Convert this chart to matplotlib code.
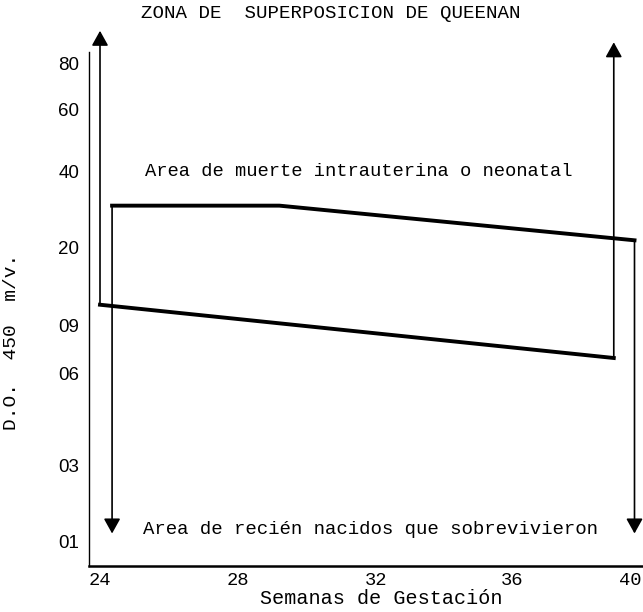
import numpy as np
import matplotlib
matplotlib.use('Agg')
import matplotlib.pyplot as plt

# etiquetas de los ejes
do_ticks = [0.01, 0.03, 0.06, 0.09, 0.20, 0.40, 0.60, 0.80]
do_labels = ['01', '03', '06', '09', '20', '40', '60', '80']
semanas = [24, 28, 32, 36, 40]

# limite superior (zona de muerte) y limite inferior (sobrevivientes)
sem_sup = [24.35, 29.2, 40.15]
do_sup = [0.31, 0.31, 0.22]
sem_inf = [24.0, 39.45]
do_inf = [0.12, 0.07]

# extremos de las flechas
tope_izq = 0.94
tope_der = 0.89
fondo = 0.012

# escala del papel, dibujada a mano (no es log ni lineal)
y_val = [0.0, 0.01, 0.03, 0.06, 0.09, 0.20, 0.40, 0.60, 0.80, 1.0]
y_alt = [0, 25, 100, 192, 240, 318, 395, 456, 503, 549]
x_sem = [20, 24, 28, 32, 36, 40, 44]
x_pos = [-38, 100, 238, 376, 512, 630, 750]

fy = lambda v: np.interp(v, y_val, y_alt)
iy = lambda h: np.interp(h, y_alt, y_val)
fx = lambda s: np.interp(s, x_sem, x_pos)
ix = lambda p: np.interp(p, x_pos, x_sem)

mono = 'Liberation Mono'

fig = plt.figure(figsize=(6.43, 6.12), dpi=100)
ax = fig.add_axes([89/643., 46/612., 554/643., 549/612.])
ax.set_xscale('function', functions=(fx, ix))
ax.set_yscale('function', functions=(fy, iy))
ax.set_xlim(ix(89), ix(643))
ax.set_ylim(0.0, 1.0)

for s in ['top', 'right']:
  ax.spines[s].set_visible(False)
ax.spines['left'].set_bounds(0.0, 0.85)
ax.spines['left'].set_linewidth(1.0)
ax.spines['bottom'].set_linewidth(1.8)

ax.set_yticks(do_ticks)
ax.set_yticklabels(do_labels, family='Liberation Sans', fontsize=13.5)
ax.set_xticks(semanas)
ax.set_xticklabels([str(s) for s in semanas], family=mono, fontsize=13.5)
ax.tick_params(axis='y', length=0, pad=7)
ax.tick_params(axis='x', length=0, pad=4)
ax.minorticks_off()

ax.plot(sem_sup, do_sup, color='k', lw=2.8, solid_joinstyle='miter')
ax.plot(sem_inf, do_inf, color='k', lw=2.8, solid_joinstyle='miter')

def flecha(x, y0, y1):
  ax.annotate('', xy=(x, y1), xytext=(x, y0),
              arrowprops=dict(arrowstyle='-|>,head_length=0.9,head_width=0.5',
                              color='k', lw=1.2, shrinkA=0, shrinkB=0,
                              mutation_scale=10))

flecha(sem_inf[0], do_inf[0], tope_izq)
flecha(sem_inf[-1], do_inf[-1], tope_der)
flecha(sem_sup[0], do_sup[0], fondo)
flecha(sem_sup[-1], do_sup[-1], fondo)

ax.text(25.3, 0.40, 'Area de muerte intrauterina o neonatal',
        family=mono, fontsize=13.5, va='center')
ax.text(25.25, 0.013, 'Area de recién nacidos que sobrevivieron',
        family=mono, fontsize=13.7, va='center')

fig.text(331/643., 1 - 14/612., 'ZONA DE  SUPERPOSICION DE QUEENAN',
         family=mono, fontsize=13.8, ha='center', va='center')
fig.text(12/643., 1 - 342/612., 'D.O.  450  m/v.', family=mono,
         fontsize=14, rotation=90, ha='center', va='center')
fig.text(381/643., 1 - 598/612., 'Semanas de Gestación', family=mono,
         fontsize=14.5, ha='center', va='center')

fig.savefig('out.png', dpi=100)
